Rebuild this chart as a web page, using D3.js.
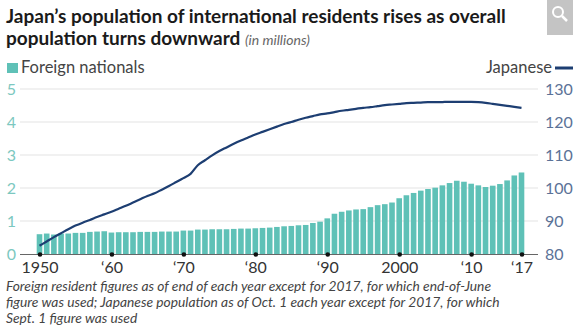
<!DOCTYPE html>
<html>
<head>
<meta charset="utf-8">
<script src="https://cdn.jsdelivr.net/npm/d3@7"></script>
<style>
  body { margin: 0; background: #fff; }
  svg { display: block; font-family: Lato, "Noto Sans", sans-serif; }
</style>
</head>
<body>
<div id="chart"></div>
<script>
// years shown on the chart
var years = d3.range(1950, 2018);

// foreign nationals, millions (bars, left axis)
var foreign = [
  0.60, 0.62, 0.59, 0.62, 0.62, 0.64, 0.64, 0.67, 0.68, 0.69,
  0.65, 0.66, 0.66, 0.66, 0.67, 0.67, 0.67, 0.68, 0.68, 0.68,
  0.71, 0.71, 0.74, 0.74, 0.75, 0.75, 0.75, 0.76, 0.77, 0.77,
  0.78, 0.79, 0.80, 0.82, 0.84, 0.85, 0.87, 0.88, 0.94, 0.98,
  1.08, 1.22, 1.28, 1.32, 1.35, 1.36, 1.42, 1.48, 1.51, 1.56,
  1.69, 1.78, 1.85, 1.92, 1.97, 2.01, 2.08, 2.15, 2.22, 2.19,
  2.13, 2.08, 2.03, 2.07, 2.12, 2.23, 2.38, 2.47
];

// Japanese population, millions (line, right axis)
var japanese = [
  82.5, 83.8, 85.1, 86.3, 87.5, 88.6, 89.5, 90.3, 91.2, 92.0,
  92.8, 93.7, 94.6, 95.6, 96.6, 97.6, 98.4, 99.5, 100.6, 101.8,
  103.0, 104.3, 106.9, 108.4, 109.9, 111.2, 112.3, 113.4, 114.4, 115.3,
  116.2, 117.0, 117.8, 118.6, 119.4, 120.0, 120.7, 121.3, 121.8, 122.3,
  122.6, 123.0, 123.4, 123.7, 124.0, 124.3, 124.5, 124.8, 125.1, 125.3,
  125.5, 125.7, 125.8, 125.9, 126.0, 126.0, 126.05, 126.1, 126.1, 126.1,
  126.1, 126.0, 125.8, 125.5, 125.2, 124.9, 124.6, 124.3
];

var leftTicks = [0, 1, 2, 3, 4, 5];
var rightTicks = [80, 90, 100, 110, 120, 130];
var xTicks = [1950, 1960, 1970, 1980, 1990, 2000, 2010, 2017];
var xTickLabels = ["1950", "\u201860", "\u201870", "\u201880", "\u201890", "2000", "\u201810", "\u201817"];

var width = 579, height = 328;
var teal = "#5fc1b7", navy = "#1d3e72";

var svg = d3.select("#chart").append("svg")
  .attr("width", width)
  .attr("height", height);

var x = d3.scaleLinear().domain([1950, 2017]).range([39.5, 521.5]);
var yL = d3.scaleLinear().domain([0, 5]).range([254, 89]);
var yR = d3.scaleLinear().domain([80, 130]).range([254, 89]);
var barW = (x(1951) - x(1950)) * 0.78;

// title
svg.append("text")
  .attr("x", 6).attr("y", 23)
  .attr("font-size", 19).attr("font-weight", 700).attr("fill", "#1a1a1a")
  .text("Japan\u2019s population of international residents rises as overall");
var t2 = svg.append("text")
  .attr("x", 6).attr("y", 45)
  .attr("font-size", 19).attr("font-weight", 700).attr("fill", "#1a1a1a");
t2.append("tspan").text("population turns downward ");
t2.append("tspan").attr("font-size", 14).attr("font-weight", 400)
  .attr("font-style", "italic").attr("fill", "#666").text("(in millions)");

// zoom icon box at top right
var icon = svg.append("g");
icon.append("rect").attr("x", 547).attr("y", 0).attr("width", 26).attr("height", 35).attr("fill", "#c4c4c4");
icon.append("circle").attr("cx", 558).attr("cy", 12).attr("r", 5)
  .attr("fill", "none").attr("stroke", "#fff").attr("stroke-width", 2);
icon.append("line").attr("x1", 562).attr("y1", 16).attr("x2", 567).attr("y2", 21)
  .attr("stroke", "#fff").attr("stroke-width", 2.5);

// legend
svg.append("rect").attr("x", 7).attr("y", 63).attr("width", 11).attr("height", 10).attr("fill", teal);
svg.append("text").attr("x", 21).attr("y", 73).attr("font-size", 16.5).attr("fill", "#444")
  .text("Foreign nationals");
svg.append("text").attr("x", 552).attr("y", 73).attr("font-size", 16.5).attr("fill", "#444")
  .attr("text-anchor", "end").text("Japanese");
svg.append("line").attr("x1", 555).attr("x2", 573).attr("y1", 68).attr("y2", 68)
  .attr("stroke", navy).attr("stroke-width", 3);

// gridlines
svg.append("g").selectAll("line").data(leftTicks.slice(1)).enter().append("line")
  .attr("x1", 20).attr("x2", 538)
  .attr("y1", function (d) { return yL(d); })
  .attr("y2", function (d) { return yL(d); })
  .attr("stroke", "#e3e3e3").attr("stroke-width", 1);

// left axis
var axL = svg.append("g").attr("transform", "translate(16,0)")
  .call(d3.axisLeft(yL).tickValues(leftTicks).tickSize(0).tickPadding(0)
    .tickFormat(d3.format("d")));
axL.select(".domain").remove();
axL.selectAll("text").attr("font-size", 16).attr("fill", "#7cc8c0")
  .attr("font-family", "Lato, sans-serif");

// right axis
var axR = svg.append("g").attr("transform", "translate(545,0)")
  .call(d3.axisRight(yR).tickValues(rightTicks).tickSize(0).tickPadding(0));
axR.select(".domain").remove();
axR.selectAll("text").attr("font-size", 16).attr("fill", "#5b7297")
  .attr("font-family", "Lato, sans-serif");

// bars
svg.append("g").selectAll("rect").data(years).enter().append("rect")
  .attr("x", function (d) { return x(d) - barW / 2; })
  .attr("y", function (d, i) { return yL(foreign[i]); })
  .attr("width", barW)
  .attr("height", function (d, i) { return yL(0) - yL(foreign[i]); })
  .attr("fill", teal);

// baseline
svg.append("line").attr("x1", 20).attr("x2", 538).attr("y1", 254.5).attr("y2", 254.5)
  .attr("stroke", "#666").attr("stroke-width", 1.2);

// japanese line
var line = d3.line()
  .x(function (d, i) { return x(years[i]); })
  .y(function (d) { return yR(d); })
  .curve(d3.curveMonotoneX);
svg.append("path").datum(japanese)
  .attr("d", line)
  .attr("fill", "none").attr("stroke", navy).attr("stroke-width", 2.2);

// x axis
var axX = svg.append("g").attr("transform", "translate(0,254.5)")
  .call(d3.axisBottom(x).tickValues(xTicks).tickSize(0).tickPadding(7)
    .tickFormat(function (d, i) { return xTickLabels[i]; }));
axX.select(".domain").remove();
axX.selectAll("text").attr("font-size", 16).attr("fill", "#333")
  .attr("font-family", "Lato, sans-serif");
axX.selectAll(".tick").append("circle").attr("r", 2.3).attr("fill", "#111");

// footnote
var notes = [
  "Foreign resident figures as of end of each year except for 2017, for which end-of-June",
  "figure was used; Japanese population as of Oct. 1 each year except for 2017, for which",
  "Sept. 1 figure was used"
];
svg.append("g").selectAll("text").data(notes).enter().append("text")
  .attr("x", 6)
  .attr("y", function (d, i) { return 291 + i * 16; })
  .attr("font-size", 13.8).attr("font-style", "italic").attr("fill", "#444")
  .text(function (d) { return d; });
</script>
</body>
</html>
